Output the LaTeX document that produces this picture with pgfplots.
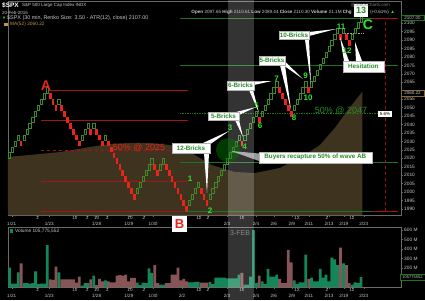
\documentclass[border=0pt]{standalone}
\usepackage{fontspec}
\setmainfont{Liberation Sans}
\usepackage{pgfplots}
\usepackage{pgfplotstable}
\pgfplotsset{compat=1.18}
\definecolor{upg}{RGB}{64,135,42}
\definecolor{dnr}{RGB}{235,35,25}
\definecolor{volg}{RGB}{20,135,90}
\definecolor{vold}{RGB}{135,85,85}
\definecolor{mab}{RGB}{62,51,30}
\definecolor{frm}{RGB}{105,105,105}
\definecolor{tck}{RGB}{200,200,200}
\definecolor{redl}{RGB}{165,20,20}
\definecolor{grnl}{RGB}{30,115,30}
\definecolor{txtg}{RGB}{40,140,40}
\definecolor{brightg}{RGB}{50,225,50}
\definecolor{olv}{RGB}{190,150,70}
\newcommand{\fs}[1]{\fontsize{#1}{#1}\selectfont}
\pgfdeclareplotmark{renkou}{\pgfpathrectangle{\pgfpoint{-1.1pt}{-2.62pt}}{\pgfpoint{2.2pt}{5.24pt}}\pgfusepathqstroke}
\pgfdeclareplotmark{renkod}{\pgfpathrectangle{\pgfpoint{-1.35pt}{-2.85pt}}{\pgfpoint{2.7pt}{5.7pt}}\pgfusepathqfill}

\pgfplotstableread{
i lo v
0 2020 205
1 2023.5 35
2 2027 35
3 2030.5 155
5 2030.5 40
6 2034 40
7 2037.5 35
8 2041 40
9 2044.5 165
10 2048 30
11 2051.5 35
12 2055 35
13 2058.5 440
17 2051.5 155
25 2030.5 15
26 2034 40
27 2037.5 40
29 2037.5 120
33 2030.5 70
44 1999 45
45 2002.5 20
46 2006 45
47 2009.5 40
48 2013 195
49 2016.5 150
52 2013 25
53 2016.5 25
62 1992 50
63 1995.5 50
64 1999 55
65 2002.5 55
69 1995.5 55
70 1999 30
71 2002.5 100
72 2006 100
73 2009.5 100
74 2013 100
75 2016.5 90
76 2020 90
77 2023.5 90
78 2027 90
79 2030.5 130
81 2030.5 25
82 2034 25
83 2037.5 110
84 2041 600
85 2044.5 40
87 2044.5 60
88 2048 30
89 2051.5 190
90 2055 110
91 2058.5 110
92 2062 130
98 2048 70
99 2051.5 30
100 2055 50
101 2058.5 50
102 2062 340
104 2062 100
105 2065.5 60
106 2069 60
107 2072.5 190
108 2076 100
109 2079.5 130
110 2083 60
111 2086.5 310
112 2090 290
113 2093.5 230
115 2093.5 250
118 2090 25
119 2093.5 50
120 2097 40
121 2100.5 105
}\up

\pgfplotstableread{
i lo v
4 2027 250
14 2055 80
15 2051.5 75
16 2048 215
18 2048 80
19 2044.5 80
20 2041 80
21 2037.5 80
22 2034 80
23 2030.5 45
24 2027 110
28 2034 80
30 2034 20
31 2030.5 85
32 2027 60
34 2027 60
35 2023.5 50
36 2020 50
37 2016.5 120
38 2013 125
39 2009.5 120
40 2006 130
41 2002.5 60
42 1999 95
43 1995.5 95
50 2013 230
51 2009.5 40
54 2013 40
55 2009.5 40
56 2006 130
57 2002.5 130
58 1999 205
59 1995.5 70
60 1992 85
61 1988.5 60
66 1999 45
67 1995.5 45
68 1992 45
80 2027 150
86 2041 120
93 2058.5 85
94 2055 40
95 2051.5 40
96 2048 390
97 2044.5 260
103 2058.5 85
114 2090 415
116 2090 230
117 2086.5 40
}\dn

\pgfplotstableread{
i p
-0.52 1986.45
-0.52 2020.8
7.06 2022.0
17.4 2023.7
27.7 2026.7
34.6 2028.5
41.5 2029.1
48.4 2029.1
55.2 2027.9
62.1 2023.7
69.7 2016.0
77.6 2011.9
84.5 2011.3
93.1 2014.3
101.7 2022.0
106.9 2027.9
112.0 2037.9
116.5 2048.6
121.5 2059.5
121.5 1986.45
}\ma

\pgfplotsset{
  renkoaxis/.style={
    scale only axis, anchor=south west, width=393pt,
    xmin=-0.52, xmax=134.8,
    axis line style={frm, line width=0.5pt},
    tick align=outside, major tick length=2pt,
    tick style={frm, line width=0.4pt},
    xtick pos=bottom, ytick pos=right, yticklabel pos=right,
    /pgf/number format/1000 sep={},
    /pgf/number format/assume math mode=true,
    yticklabel style={font=\fs{4.8}, text=tck, inner sep=1pt},
    xtick={0.76,13.7,30.0,41.1,49.4,59.4,74.9,84.9,91.0,97.2,103.1,110,115.1,122},
    xticklabel style={font=\fs{4.6}, text=tck, inner sep=0.5pt, yshift=-4pt},
    extra x ticks={9.7,22.5,26.8,30.0,33.7,41.5,46.3,65.2,68.3,80.0,99,109.3,117.9},
    extra x tick labels={2,10,2,10,2,10,2,12,2,10,12,2,12},
    extra x tick style={xticklabel style={yshift=5.5pt}},
  }
}

\begin{document}
\begin{tikzpicture}
\useasboundingbox (0,0) rectangle (425pt,300pt);
\fill[black] (0,0) rectangle (425pt,300pt);

% ---------------- price panel
\begin{axis}[renkoaxis, at={(8pt,85pt)}, height=214pt,
  ymin=1986.45, ymax=2113.1,
  ytick={1990,1995,2000,2005,2010,2015,2020,2025,2030,2035,2040,2045,2050,2055,2065,2070,2075,2080,2085,2090,2095,2100},
  xticklabels={1/21,1/23,1/28,1/29,1/30,{},2/3,2/4,2/6,2/9,2/11,2/13,2/19,2/23}]
\addplot[fill=mab, draw=none] table[x=i,y=p]{\ma};
\addplot[redl, line width=0.7pt] coordinates {(13.3,2060.2) (61.4,2060.2)};
\addplot[redl, line width=0.7pt] coordinates {(10.8,2042.7) (61.4,2042.7)};
\addplot[redl, line width=0.7pt] coordinates {(10.8,2006.6) (61.4,2006.6)};
\addplot[redl, line width=0.7pt] coordinates {(10.8,1988.8) (61.4,1988.8)};
\addplot[redl, dashed, line width=0.7pt] coordinates {(10.8,2024.9) (55.2,2024.9)};
\addplot[grnl, line width=0.7pt] coordinates {(58.7,2103) (124.8,2103)};
\addplot[redl, line width=0.7pt] coordinates {(124.8,2103) (133.7,2103)};
\addplot[grnl, line width=0.7pt] coordinates {(58.7,2075.2) (133.7,2075.2)};
\addplot[grnl, densely dotted, line width=0.7pt] coordinates {(58.7,2046.5) (129.3,2046.5)};
\addplot[grnl, line width=0.7pt] coordinates {(58.7,2017.8) (133.7,2017.8)};
\addplot[grnl, line width=0.7pt] coordinates {(60.4,1988.8) (124.8,1988.8)};
\addplot[redl, line width=0.7pt] coordinates {(124.8,1988.8) (133.7,1988.8)};
\addplot[redl, dashed, line width=0.6pt] coordinates {(129.4,1988.8) (129.4,2103)};
\addplot[gray!70, densely dotted, line width=0.6pt] coordinates {(115.5,2094.1) (122,2094.1)};
\addplot[only marks, mark=renkou, mark options={draw=upg, line width=0.6pt}] table[x=i, y expr=\thisrow{lo}+1.75]{\up};
\addplot[only marks, mark=renkod, mark options={fill=dnr, draw=none}] table[x=i, y expr=\thisrow{lo}+1.75]{\dn};
\end{axis}

% ---------------- volume panel
\begin{axis}[renkoaxis, at={(8pt,13pt)}, height=60pt,
  ymin=0, ymax=632, ytick={200,300,400,500,600},
  yticklabels={200 M,300 M,400 M,500 M,600 M},
  xticklabels={1/21,1/23,1/28,1/29,1/30,2/2,2/3,2/4,2/6,2/9,2/11,2/13,2/19,2/23}]
\addplot[ybar, bar width=2.8pt, bar shift=0pt, fill=volg, draw=none] table[x=i,y=v]{\up};
\addplot[ybar, bar width=2.8pt, bar shift=0pt, fill=vold, draw=none] table[x=i,y=v]{\dn};
\end{axis}

% ---------------- annotations (pixel coordinates)
\begin{scope}[shift={(0pt,300pt)}, x=1pt, y=-1pt]
\fill[white, opacity=0.2] (228,0) rectangle (254,300);
\fill[green!45!black, opacity=0.5] (228,150) circle (12);
% pointers
\fill[white] (203,143) -- (209,145) -- (229,131) -- cycle;
\fill[white] (204,153) -- (209,153) -- (207,193) -- cycle;
\fill[white] (236,112) -- (239,115) -- (256,107) -- cycle;
\fill[white] (235,120) -- (239,120) -- (243,137) -- cycle;
\fill[white] (252,81.5) -- (254,85) -- (272,81) -- cycle;
\fill[white] (249,90) -- (253,90) -- (259,113) -- cycle;
\fill[white] (280,65) -- (285,65) -- (291,110) -- cycle;
\fill[white] (283,65) -- (285.5,62) -- (303,79) -- cycle;
\fill[white] (309,32) -- (309,36) -- (336,29) -- cycle;
\fill[white] (305,39.5) -- (309,39.5) -- (311,84) -- cycle;
\fill[white] (344,61) -- (349,61) -- (340,37) -- cycle;
\fill[white] (356,61) -- (362,61) -- (355,42) -- cycle;
\fill[white, opacity=0.6] (231,151) -- (259,153.5) -- (259,161) -- cycle;
% callout boxes
\tikzset{co/.style={fill=white, draw=gray!60, line width=0.3pt, inner sep=0pt, text=txtg, font=\fs{6.3}\bfseries}}
\node[co, minimum width=38pt, minimum height=10pt] at (191,148) {12-Bricks};
\node[co, minimum width=31pt, minimum height=8.5pt] at (223.5,116) {5-Bricks};
\node[co, minimum width=27pt, minimum height=9pt] at (240.5,85.5) {6-Bricks};
\node[co, minimum width=26.5pt, minimum height=9pt] at (272,60.5) {5-Bricks};
\node[co, minimum width=30pt, minimum height=8.5pt] at (294,35.3) {10-Bricks};
\node[co, minimum width=41pt, minimum height=11pt] at (363.3,66.3) {Hesitation};
\node[co, minimum width=113pt, minimum height=11pt] at (315.3,157.3) {Buyers recapture 50\% of wave AB};
% wave numbers
\tikzset{wn/.style={text=brightg, font=\fs{8}\bfseries, inner sep=0pt}}
\node[wn] at (190,179) {1};
\node[wn] at (210,211) {2};
\node[wn] at (230,127.5) {3};
\node[wn] at (244.5,146.5) {4};
\node[wn] at (256.5,105.5) {5};
\node[wn] at (260,125.5) {6};
\node[wn] at (276.5,79) {7};
\node[wn] at (294,117.5) {8};
\node[wn] at (305.5,76) {9};
\node[wn] at (308,97.5) {10};
\node[wn] at (341,26.5) {11};
\node[wn] at (347,51) {12};
\node[text=dnr, font=\fs{14}\bfseries, inner sep=0pt] at (46,86) {A};
\node[text=brightg, font=\fs{14}\bfseries, inner sep=0pt] at (368,25) {C};
\fill[white] (172,216) rectangle (187,232);
\node[text=dnr, font=\fs{13}\bfseries, inner sep=0pt] at (179.5,224.5) {B};
\fill[white] (354,4) rectangle (368,17);
\node[text=txtg, font=\fs{9}\bfseries, inner sep=0pt] at (361,10.5) {13};
\node[text=dnr, font=\fs{9}, inner sep=0pt] at (139,147.5) {50\% @ 2025};
\node[text=txtg, font=\fs{9}, inner sep=0pt] at (341,111) {50\% @ 2047};
\fill[white] (378,111) rectangle (392,117);
\node[text=black, font=\fs{4.5}, inner sep=0pt] at (385,114) {5.6\%};
% right side boxes
\filldraw[fill=black, draw=grnl, line width=0.5pt] (401,15) rectangle (424,20.5);
\node[text=tck, font=\fs{4.5}, inner sep=0pt] at (412.5,17.75) {2107.00};
\filldraw[fill=black, draw=olv!70!black, line width=0.5pt] (401,90.5) rectangle (424,96);
\node[text=tck, font=\fs{4.5}, inner sep=0pt] at (412.5,93.25) {2060.22};
\filldraw[fill=black, draw=grnl, line width=0.5pt] (400,274.5) rectangle (425,280);
\node[text=tck, font=\fs{4}, inner sep=0pt] at (412.5,277.25) {105775552};
% header
\node[anchor=west, inner sep=0pt, text=white, font=\fs{6.5}\bfseries] at (2,5.5) {\$SPX};
\node[anchor=west, inner sep=0pt, text=tck, font=\fs{4.5}] at (22,5.5) {S\&P 500 Large Cap Index INDX};
\node[anchor=east, inner sep=0pt, text=gray, font=\fs{4.5}] at (390,5) {@StockCharts.com};
\node[anchor=west, inner sep=0pt, text=tck, font=\fs{4.5}] at (2,12.5) {20-Feb-2015};
\node[anchor=east, inner sep=0pt, text=tck, font=\fs{4.6}] at (352,12.5) {\textbf{Open} 2097.65 \textbf{High} 2110.61 \textbf{Low} 2089.44 \textbf{Close} 2110.30 \textbf{Volume} 21.1M \textbf{Chg}};
\node[anchor=west, inner sep=0pt, text=tck, font=\fs{4.6}] at (370,12.5) {(+0.61\%) \textcolor{brightg}{▲}};
\node[anchor=west, inner sep=0pt, text=brightg, font=\fs{4}] at (2,18.5) {▼};
\node[anchor=west, inner sep=0pt, text=tck, font=\fs{5.4}] at (7,18.5) {\$SPX (30 min, Renko Size: 3.50 - ATR(12), close) 2107.00};
\fill[olv] (4,23) rectangle (8,26);
\node[anchor=west, inner sep=0pt, text=olv, font=\fs{4.8}] at (10,24.5) {MA(52) 2060.22};
% volume panel texts
\fill[volg] (10,229) rectangle (13,232.5);
\node[anchor=west, inner sep=0pt, text=tck, font=\fs{4.8}] at (15,231) {Volume 105,775,552};
\node[text=gray!90, font=\fs{7}, inner sep=0pt] at (240,233.5) {3-FEB};
\end{scope}
\end{tikzpicture}
\end{document}
